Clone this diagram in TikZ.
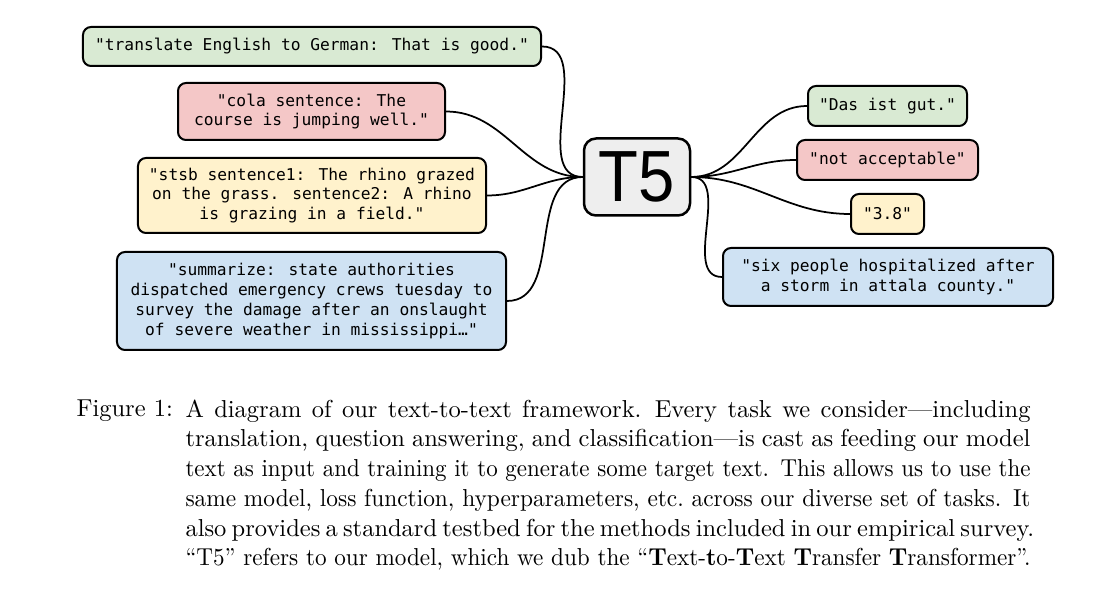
\documentclass[tikz,border=0pt]{standalone}
\usepackage{fontspec}
\usepackage{graphicx}
\newfontfamily\boxmono{DejaVu Sans Mono}
\newfontfamily\tfivefont[FakeStretch=0.9]{Liberation Sans}
\definecolor{cgreen}{HTML}{D9EAD3}
\definecolor{cred}{HTML}{F4C7C7}
\definecolor{cyellow}{HTML}{FFF2CC}
\definecolor{cblue}{HTML}{CFE2F3}
\definecolor{cgrey}{HTML}{EEEEEE}
\newcommand\capline[1]{\hbox to 338pt{\spaceskip=0.333em plus 0.4em minus 0.12em
  \xspaceskip=0.45em plus 0.4em minus 0.12em #1}\par}
\newcommand\caplinefit[1]{\resizebox{338pt}{\height}{#1}\par}
\tikzset{
  tbox/.style={draw=black, line width=0.8pt, rounded corners=3.2pt, inner sep=0pt,
    align=center, font=\boxmono\fontsize{6.5}{7.9}\selectfont},
  model/.style={draw=black, line width=1pt, rounded corners=4.8pt, inner sep=0pt,
    fill=cgrey, font=\tfivefont\fontsize{29}{30}\selectfont},
  link/.style={line width=0.7pt, black},
  captext/.style={inner sep=0pt, font=\fontsize{9.8}{11.9}\selectfont},
}
\begin{document}
\begin{tikzpicture}[x=0.4pt,y=-0.4pt]
\useasboundingbox (0,0) rectangle (1118,610);
\node[model, minimum width=42.4pt, minimum height=30.8pt] (t5) at (637,177) {T5};
% inputs
\node[tbox, fill=cgreen, minimum width=183.2pt, minimum height=15.6pt] (in1) at (312,46.5)
  {"translate English to German: That is good."};
\node[tbox, fill=cred, minimum width=106.8pt, minimum height=22.8pt] (in2) at (311.5,111.5)
  {"cola sentence: The\\course is jumping well."};
\node[tbox, fill=cyellow, minimum width=139.2pt, minimum height=30pt] (in3) at (312,195.5)
  {"stsb sentence1: The rhino grazed\\on the grass. sentence2: A rhino\\is grazing in a field."};
\node[tbox, fill=cblue, minimum width=155.6pt, minimum height=39.2pt] (in4) at (311.5,301)
  {"summarize: state authorities\\dispatched emergency crews tuesday to\\survey the damage after an onslaught\\of severe weather in mississippi\ldots"};
% outputs
\node[tbox, fill=cgreen, minimum width=63.6pt, minimum height=16pt] (out1) at (887.5,106)
  {"Das ist gut."};
\node[tbox, fill=cred, minimum width=72.4pt, minimum height=16pt] (out2) at (887.5,160)
  {"not acceptable"};
\node[tbox, fill=cyellow, minimum width=29.2pt, minimum height=16pt] (out3) at (887.5,214)
  {"3.8"};
\node[tbox, fill=cblue, minimum width=132pt, minimum height=23.2pt] (out4) at (888,277)
  {"six people hospitalized after\\a storm in attala county."};
% connectors
\foreach \n in {in1,in2,in3,in4}
  \draw[link] (\n.east) to[out=0,in=180] (t5.west);
\foreach \n in {out1,out2,out3,out4}
  \draw[link] (t5.east) to[out=0,in=180] (\n.west);
% caption
\node[captext, anchor=north west] (figlabel) at (76,399) {Figure 1:};
\node[captext, anchor=north west, text width=338pt] (cap) at (185,399)
  {\capline{A diagram of our text-to-text framework.  Every task we consider---including}
  \capline{translation, question answering, and classification---is cast as feeding our model}
  \caplinefit{text as input and training it to generate some target text.  This allows us to use the}
  \caplinefit{same model, loss function, hyperparameters, etc.\ across our diverse set of tasks.  It}
  \capline{also provides a standard testbed for the methods included in our empirical survey.}
  \caplinefit{``T5'' refers to our model, which we dub the ``\textbf{T}ext-\textbf{t}o-\textbf{T}ext \textbf{T}ransfer \textbf{T}ransformer''.}};
\end{tikzpicture}
\end{document}
